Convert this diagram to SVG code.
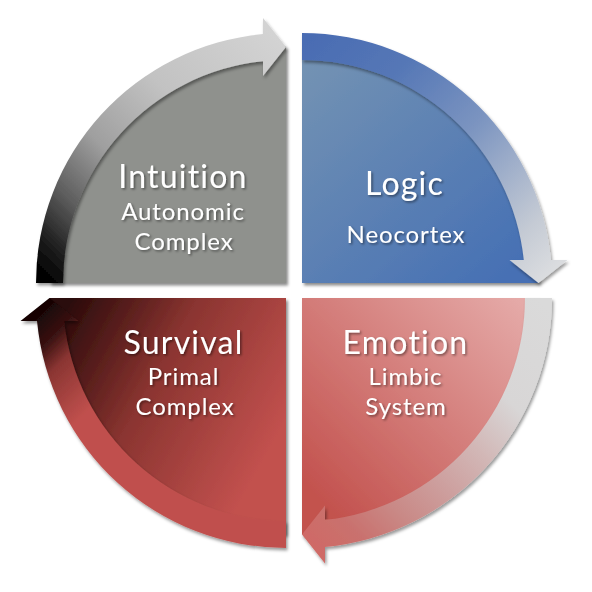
<svg xmlns="http://www.w3.org/2000/svg" width="592" height="592" viewBox="0 0 592 592">
  <style>
    .big { font-family: Lato, "Open Sans", "DejaVu Sans", sans-serif; font-size: 32px; letter-spacing: 1.2px; fill: #ffffff; text-anchor: middle; }
    .small { font-family: Lato, "Open Sans", "DejaVu Sans", sans-serif; font-size: 24px; letter-spacing: 0.9px; fill: #ffffff; text-anchor: middle; }
    .node { filter: url(#shadow); }
    .band { filter: url(#bandShadow); }
    .label { filter: url(#textShadow); }
  </style>
  <defs>
    <filter id="shadow" x="-10%" y="-10%" width="125%" height="125%">
      <feDropShadow dx="2" dy="2.5" stdDeviation="1.6" flood-color="#000" flood-opacity="0.45"/>
    </filter>
    <filter id="bandShadow" x="-10%" y="-10%" width="125%" height="125%">
      <feDropShadow dx="1.5" dy="2.5" stdDeviation="1.8" flood-color="#000" flood-opacity="0.4"/>
    </filter>
    <filter id="textShadow" x="-10%" y="-20%" width="125%" height="150%">
      <feDropShadow dx="1.5" dy="1.5" stdDeviation="1" flood-color="#000" flood-opacity="0.45"/>
    </filter>
    <linearGradient id="fillBlue" gradientUnits="userSpaceOnUse" x1="302" y1="60" x2="500" y2="283">
      <stop offset="0" stop-color="#7493b3"/>
      <stop offset="1" stop-color="#4670b4"/>
    </linearGradient>
    <linearGradient id="fillEmotion" gradientUnits="userSpaceOnUse" x1="520" y1="300" x2="320" y2="500">
      <stop offset="0" stop-color="#e5aaa8"/>
      <stop offset="1" stop-color="#c3524e"/>
    </linearGradient>
    <linearGradient id="fillSurvival" gradientUnits="userSpaceOnUse" x1="70" y1="300" x2="286" y2="420">
      <stop offset="0" stop-color="#2a0a0a"/>
      <stop offset="0.45" stop-color="#8a3430"/>
      <stop offset="1" stop-color="#c2514e"/>
    </linearGradient>
    <linearGradient id="bandGray" gradientUnits="userSpaceOnUse" x1="49.5" y1="283" x2="286" y2="46.5">
      <stop offset="0" stop-color="#000000"/>
      <stop offset="0.08" stop-color="#1c1c1c"/>
      <stop offset="0.22" stop-color="#5e5e5e"/>
      <stop offset="0.4" stop-color="#9f9f9f"/>
      <stop offset="0.65" stop-color="#c2c2c2"/>
      <stop offset="1" stop-color="#d3d3d3"/>
    </linearGradient>
    <linearGradient id="bandBlue" gradientUnits="userSpaceOnUse" x1="302" y1="46.5" x2="538.5" y2="283">
      <stop offset="0" stop-color="#4a6cb3"/>
      <stop offset="0.25" stop-color="#5577b6"/>
      <stop offset="0.53" stop-color="#7b94c0"/>
      <stop offset="0.86" stop-color="#c4cad4"/>
      <stop offset="1" stop-color="#dadcdf"/>
    </linearGradient>
    <linearGradient id="bandEmotion" gradientUnits="userSpaceOnUse" x1="538.5" y1="298" x2="302" y2="534.5">
      <stop offset="0" stop-color="#dadada"/>
      <stop offset="0.28" stop-color="#d8d6d6"/>
      <stop offset="0.45" stop-color="#d2b7b6"/>
      <stop offset="0.6" stop-color="#cd9f9e"/>
      <stop offset="0.75" stop-color="#c98986"/>
      <stop offset="0.88" stop-color="#c9716e"/>
      <stop offset="1" stop-color="#cf6a66"/>
    </linearGradient>
    <linearGradient id="bandSurvival" gradientUnits="userSpaceOnUse" x1="286" y1="534.5" x2="49.5" y2="298">
      <stop offset="0" stop-color="#c0504d"/>
      <stop offset="0.68" stop-color="#c0504d"/>
      <stop offset="0.84" stop-color="#8a3532"/>
      <stop offset="0.91" stop-color="#3a1212"/>
      <stop offset="1" stop-color="#120303"/>
    </linearGradient>
  </defs>

  <g id="intuition" class="node">
    <path d="M 286 283 L 49.5 283 A 236.5 236.5 0 0 1 286 46.5 Z" fill="#8f918d"/>
    <g class="label">
      <text class="big" x="183" y="188">Intuition</text>
      <text class="small" x="183" y="220">Autonomic</text>
      <text class="small" x="184" y="249.5">Complex</text>
    </g>
  </g>

  <g id="logic" class="node">
    <path d="M 302 283 L 302 46.5 A 236.5 236.5 0 0 1 538.5 283 Z" fill="url(#fillBlue)"/>
    <g class="label">
      <text class="big" x="404.5" y="195">Logic</text>
      <text class="small" x="406" y="243">Neocortex</text>
    </g>
  </g>

  <g id="emotion" class="node">
    <path d="M 302 298 L 538.5 298 A 236.5 236.5 0 0 1 302 534.5 Z" fill="url(#fillEmotion)"/>
    <g class="label">
      <text class="big" x="405.5" y="354">Emotion</text>
      <text class="small" x="405.5" y="385">Limbic</text>
      <text class="small" x="406" y="414.5">System</text>
    </g>
  </g>

  <g id="survival" class="node">
    <path d="M 286 298 L 286 534.5 A 236.5 236.5 0 0 1 49.5 298 Z" fill="url(#fillSurvival)"/>
    <g class="label">
      <text class="big" x="183.5" y="354">Survival</text>
      <text class="small" x="183.5" y="385">Primal</text>
      <text class="small" x="185" y="414.5">Complex</text>
    </g>
  </g>

  <g id="connectors">
    <path id="arrow-intuition-logic" class="band" fill="url(#bandGray)"
      d="M 36 283 A 250 250 0 0 1 263 34.06 L 263 18 L 286 47 L 263 76 L 263 61.19 A 223 223 0 0 0 63 283 Z"/>
    <path id="arrow-logic-emotion" class="band" fill="url(#bandBlue)"
      d="M 302 33 A 250 250 0 0 1 550.94 260 L 567.5 260 L 538.5 283 L 509.5 260 L 523.81 260 A 223 223 0 0 0 302 60 Z"/>
    <path id="arrow-emotion-survival" class="band" fill="url(#bandEmotion)"
      d="M 552 298 A 250 250 0 0 1 325 546.94 L 325 563.5 L 302 534.5 L 325 505.5 L 325 519.81 A 223 223 0 0 0 525 298 Z"/>
    <path id="arrow-survival-intuition" class="band" fill="url(#bandSurvival)"
      d="M 286 548 A 250 250 0 0 1 37.06 321 L 20.5 321 L 49.5 298 L 78.5 321 L 64.19 321 A 223 223 0 0 0 286 521 Z"/>
  </g>
</svg>
